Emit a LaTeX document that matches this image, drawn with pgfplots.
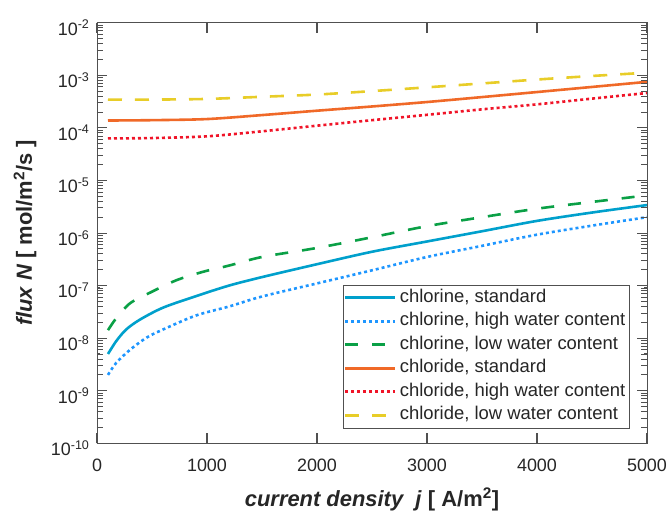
\documentclass[border=0pt]{standalone}
\usepackage{fontspec}
\setmainfont{Liberation Sans}
\usepackage{pgfplots}
\pgfplotsset{compat=1.18}

\definecolor{clstd}{RGB}{0,160,204}
\definecolor{clhigh}{RGB}{30,150,255}
\definecolor{cllow}{RGB}{10,160,70}
\definecolor{cdstd}{RGB}{240,105,40}
\definecolor{cdhigh}{RGB}{240,20,40}
\definecolor{cdlow}{RGB}{232,205,40}
\definecolor{axgray}{RGB}{80,80,80}

\begin{document}
\begin{tikzpicture}
\begin{axis}[
  scale only axis, width=550bp, height=420.6bp,
  ymode=log,
  xmin=0, xmax=5000, ymin=1e-10, ymax=1e-2,
  xtick={0,1000,2000,3000,4000,5000},
  ytick={1e-10,1e-9,1e-8,1e-7,1e-6,1e-5,1e-4,1e-3,1e-2},
  yticklabels={10\textsuperscript{-10},10\textsuperscript{-9},10\textsuperscript{-8},10\textsuperscript{-7},
               10\textsuperscript{-6},10\textsuperscript{-5},10\textsuperscript{-4},10\textsuperscript{-3},10\textsuperscript{-2}},
  scaled x ticks=false,
  /pgf/number format/1000 sep={},
  /pgf/number format/assume math mode=true,
  tick label style={font=\fontsize{18}{21}\selectfont, text=black!85},
  y tick label style={xshift=-4bp, yshift=-5bp},
  x tick label style={yshift=-12bp},
  axis line style={axgray, line width=0.9bp},
  major tick length=10bp,
  tick style={draw=axgray, line width=1bp},
  xlabel={\textbf{\textit{current density\ \ j}} \textbf{[ A/m\textsuperscript{2}]}},
  ylabel={\textbf{\textit{flux N}} \textbf{[ mol/m\textsuperscript{2}/s ]}},
  label style={font=\fontsize{22}{25}\selectfont, text=black!85},
  xlabel style={at={(axis description cs:0.5,0)}, anchor=base, yshift=-63bp},
  % the label is turned by 90 degrees, so its own y direction points left
  ylabel style={at={(axis description cs:0,0.5)}, anchor=center, yshift=72bp},
  legend cell align=left,
  legend style={at={(rel axis cs:0.968,0.036)}, anchor=south east,
                draw=axgray, fill=white,
                font=\fontsize{18.5}{21}\selectfont, text=black!85,
                inner sep=1bp, row sep=0bp,
                nodes={inner sep=3bp, text height=13.5bp, text depth=4bp}},
  legend image code/.code={\draw[#1, line width=2.6bp] (0bp,0bp) -- (50bp,0bp);},
  every axis plot/.append style={line width=2.6bp, line cap=butt},
]
% chlorine, standard
\addplot[clstd, smooth] coordinates {
 (100,5.0e-9) (175,8.8e-9) (265,1.46e-8) (390,2.25e-8) (600,3.8e-8) (900,6.3e-8)
 (1200,1.0e-7) (1500,1.45e-7) (2000,2.55e-7) (2500,4.4e-7) (3000,6.9e-7)
 (3500,1.08e-6) (4000,1.7e-6) (4500,2.45e-6) (5000,3.4e-6)};
\addlegendentry{chlorine, standard}
% chlorine, high water content
\addplot[clhigh, smooth, dash pattern=on 3bp off 3bp] coordinates {
 (100,2.0e-9) (175,3.4e-9) (300,6.0e-9) (450,1.02e-8) (600,1.46e-8) (900,2.7e-8)
 (1200,4.0e-8) (1500,6.2e-8) (2000,1.1e-7) (2500,1.95e-7) (3000,3.5e-7)
 (3500,5.7e-7) (4000,9.3e-7) (4500,1.38e-6) (5000,2.0e-6)};
\addlegendentry{chlorine, high water content}
% chlorine, low water content
\addplot[cllow, smooth, dash pattern=on 13bp off 14bp] coordinates {
 (100,1.42e-8) (175,2.4e-8) (300,4.6e-8) (480,7.3e-8) (720,1.26e-7) (960,1.82e-7)
 (1200,2.4e-7) (1500,3.5e-7) (2000,5.2e-7) (2500,8.3e-7) (3000,1.35e-6)
 (3500,2.0e-6) (4000,2.9e-6) (4500,3.9e-6) (5000,5.2e-6)};
\addlegendentry{chlorine, low water content}
% chloride, standard
\addplot[cdstd, smooth] coordinates {
 (100,1.38e-4) (500,1.40e-4) (1000,1.47e-4) (1500,1.75e-4) (2000,2.12e-4)
 (2500,2.55e-4) (3000,3.1e-4) (3500,3.85e-4) (4000,4.8e-4) (4500,6.0e-4) (5000,7.5e-4)};
\addlegendentry{chloride, standard}
% chloride, high water content
\addplot[cdhigh, smooth, dash pattern=on 3bp off 3bp] coordinates {
 (100,6.3e-5) (500,6.4e-5) (1000,6.9e-5) (1500,8.6e-5) (2000,1.1e-4)
 (2500,1.4e-4) (3000,1.77e-4) (3500,2.25e-4) (4000,2.8e-4) (4500,3.6e-4) (5000,4.6e-4)};
\addlegendentry{chloride, high water content}
% chloride, low water content
\addplot[cdlow, smooth, dash pattern=on 14bp off 13bp] coordinates {
 (100,3.45e-4) (500,3.45e-4) (1000,3.55e-4) (1500,3.9e-4) (2000,4.3e-4)
 (2500,5.0e-4) (3000,5.9e-4) (3500,7.0e-4) (4000,8.3e-4) (4500,9.7e-4) (5000,1.12e-3)};
\addlegendentry{chloride, low water content}
\end{axis}
% tick marks on all four sides of the 550 x 420.6 bp box
% (1000 per 110bp across, one decade per 52.575bp up)
\begin{scope}[axgray, line width=0.9bp]
  \foreach \i in {1,...,4}
    \draw ({\i*110bp},0) -- ++(0,10bp) ({\i*110bp},420.6bp) -- ++(0,-10bp);
  \foreach \d in {1,...,7}
    \draw (0,{\d*52.575bp}) -- ++(10bp,0) (550bp,{\d*52.575bp}) -- ++(-10bp,0);
  \foreach \d in {0,...,7}
    \foreach \m in {2,...,9} {
      \pgfmathsetmacro\yy{(\d+log10(\m))*52.575}
      \draw (0,\yy bp) -- ++(6bp,0) (550bp,\yy bp) -- ++(-6bp,0);
    }
\end{scope}
% fix the page to the reference frame (axis box sits at 97..647 x 23..443 px)
\path (-97bp,-69.7bp) rectangle (574bp,443.3bp);
\end{tikzpicture}
\end{document}
